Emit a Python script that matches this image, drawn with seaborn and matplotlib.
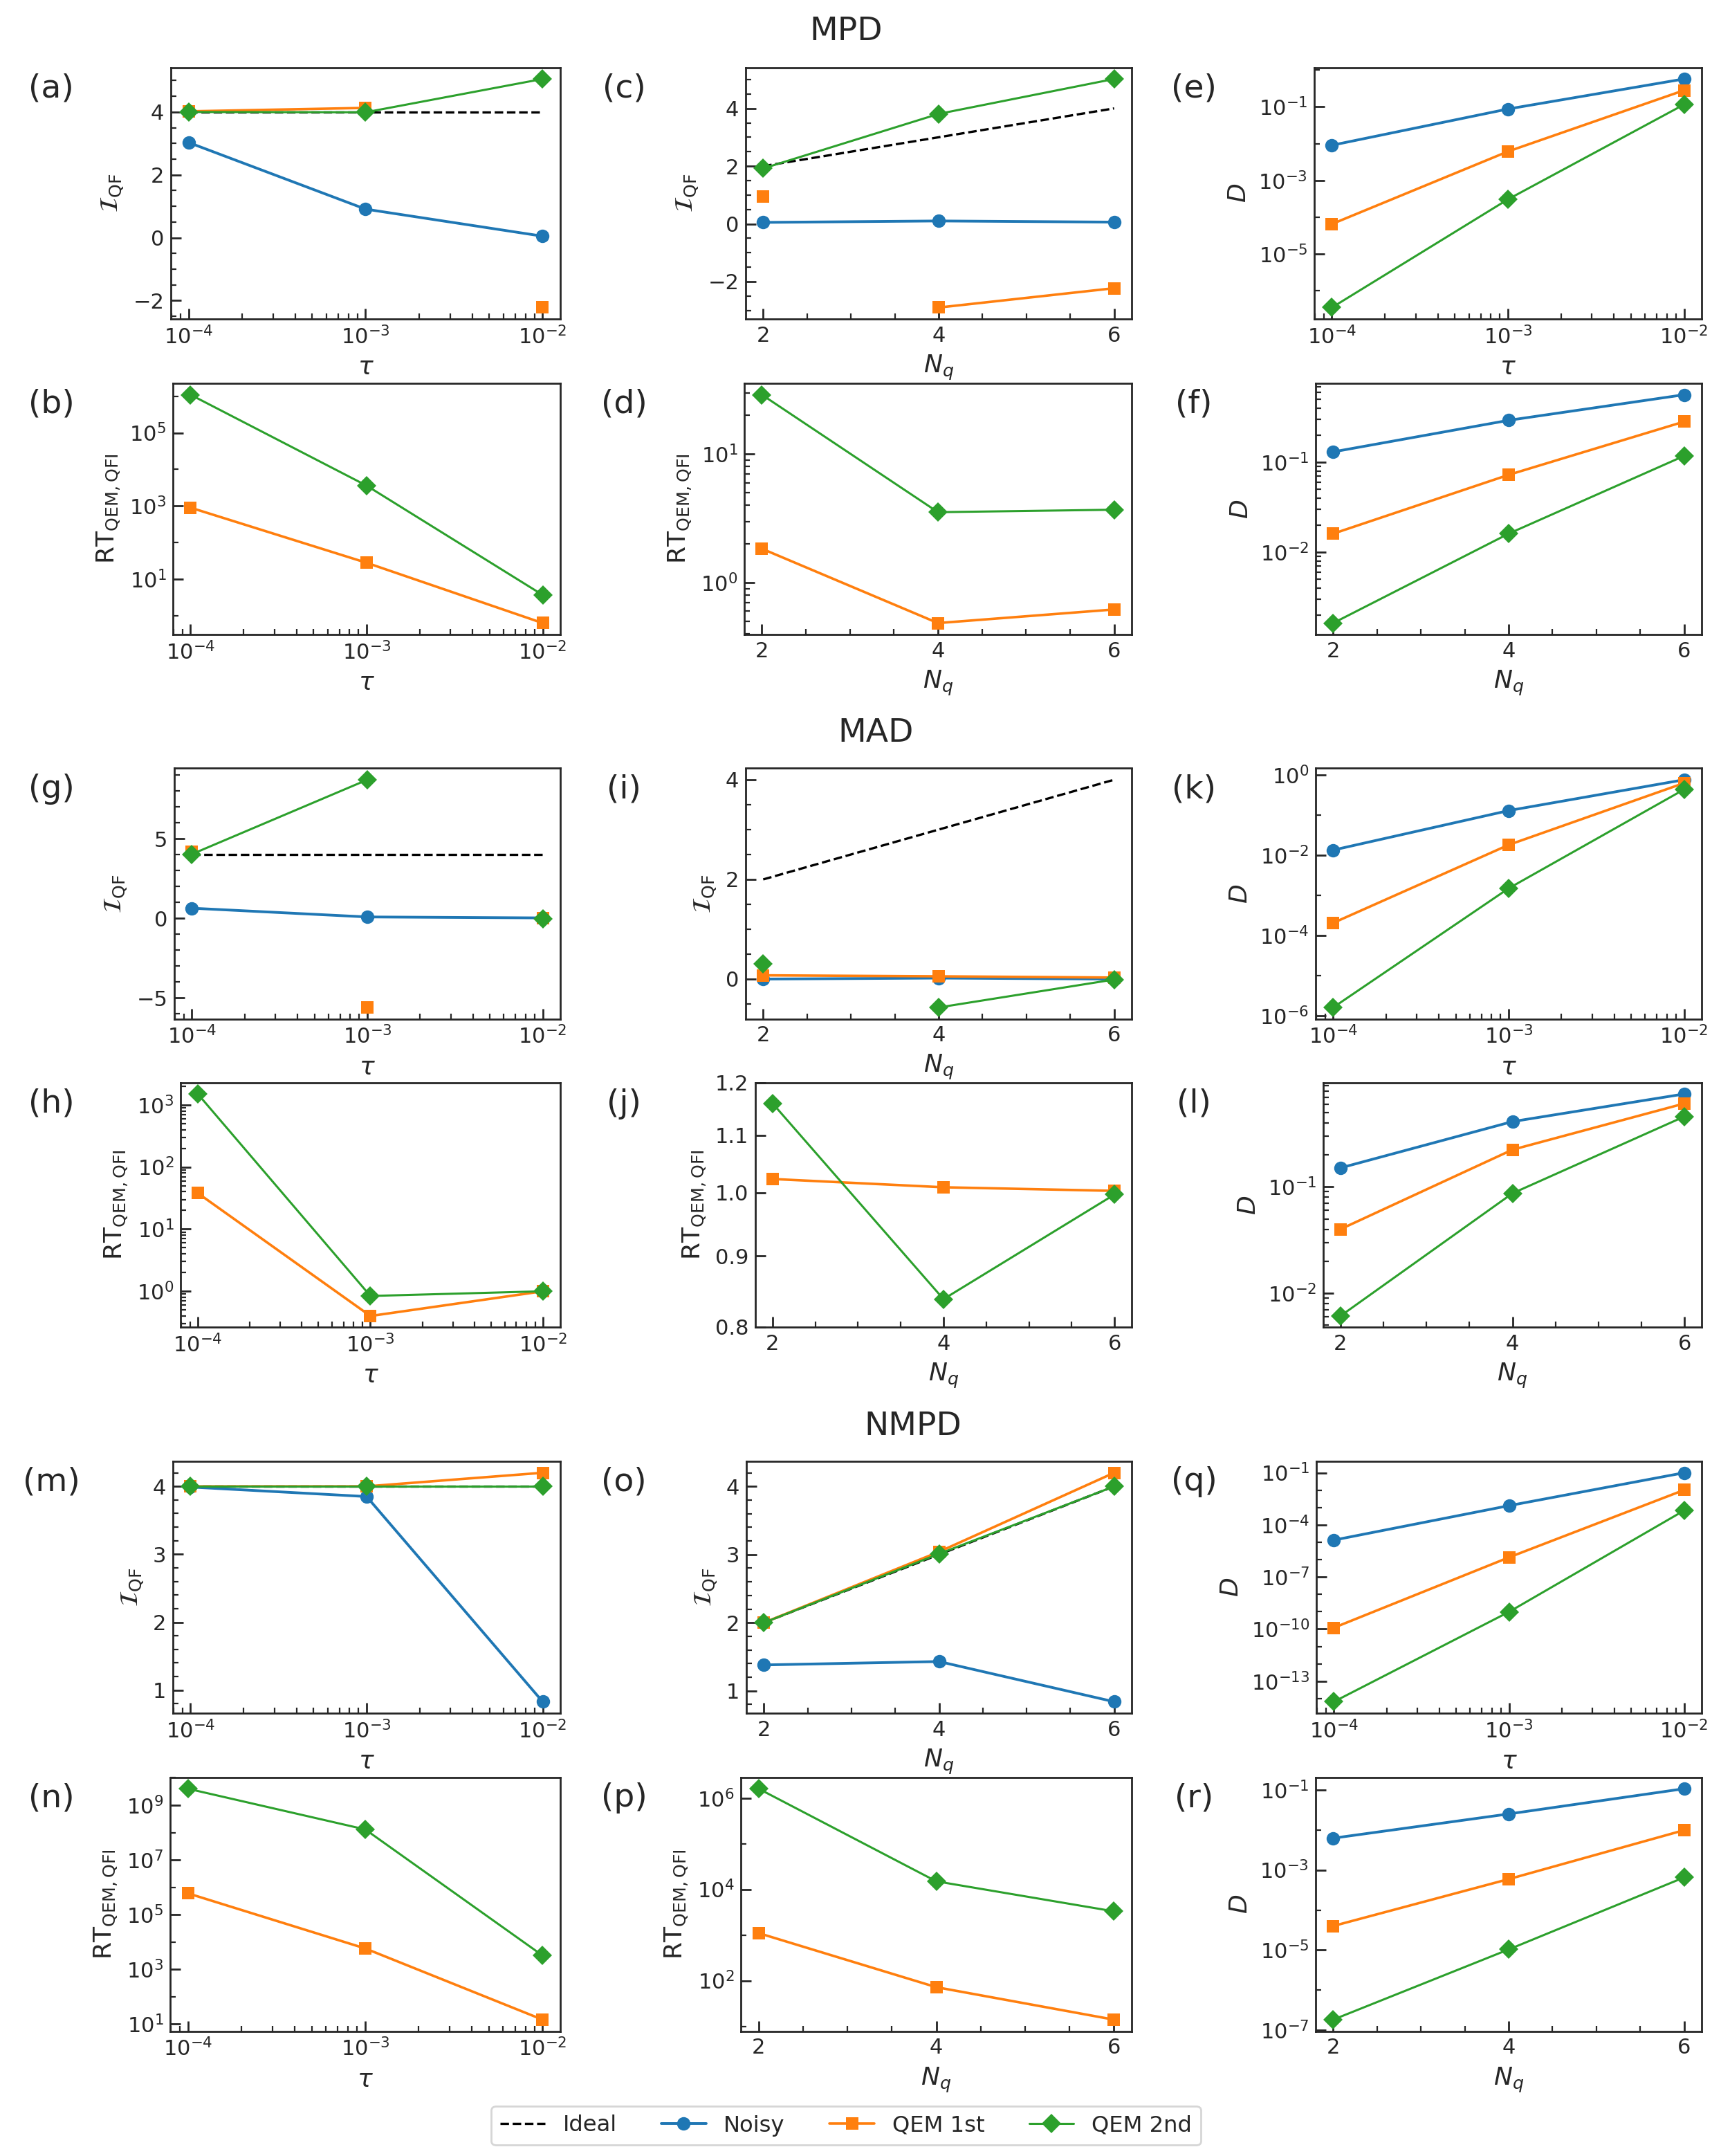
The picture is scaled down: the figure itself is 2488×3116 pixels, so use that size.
import matplotlib
matplotlib.use("Agg")
import matplotlib.pyplot as plt
from matplotlib.lines import Line2D
from matplotlib.ticker import (FixedLocator, FormatStrFormatter, NullLocator,
                               NullFormatter, LogLocator, LogFormatterSciNotation)
import numpy as np
import pandas as pd
import seaborn as sns

W, H, DPI = 2488, 3116, 200

# x values
tau = [1e-4, 1e-3, 1e-2]
nq = [2, 4, 6]

# ---- MPD ----
mpd_iqf_tau = {"Ideal": [4, 4, 4], "Noisy": [3.03, 0.91, 0.05],
               "QEM 1st": [4.02, 4.13, -2.22], "QEM 2nd": [4.0, 3.99, 5.05]}
mpd_rt_tau = {"QEM 1st": [900, 28, 0.63], "QEM 2nd": [1.1e6, 3.6e3, 3.7]}
mpd_iqf_nq = {"Ideal": [2, 3, 4], "Noisy": [0.05, 0.1, 0.06],
              "QEM 1st": [0.95, -2.9, -2.23], "QEM 2nd": [1.92, 3.81, 5.02]}
mpd_rt_nq = {"QEM 1st": [1.84, 0.486, 0.62], "QEM 2nd": [29, 3.54, 3.7]}
mpd_d_tau = {"Noisy": [9e-3, 0.087, 0.57], "QEM 1st": [6.5e-5, 6.1e-3, 0.28],
             "QEM 2nd": [3.5e-7, 3.05e-4, 0.115]}
mpd_d_nq = {"Noisy": [0.131, 0.294, 0.566], "QEM 1st": [0.0161, 0.0727, 0.284],
            "QEM 2nd": [1.63e-3, 0.0161, 0.118]}

# ---- MAD ----
mad_iqf_tau = {"Ideal": [4, 4, 4], "Noisy": [0.64, 0.09, 0.03],
               "QEM 1st": [4.18, -5.59, 0.02], "QEM 2nd": [4.03, 8.70, -0.03]}
mad_rt_tau = {"QEM 1st": [38, 0.40, 1.0], "QEM 2nd": [1.5e3, 0.84, 1.0]}
mad_iqf_nq = {"Ideal": [2, 3, 4], "Noisy": [0.0, 0.02, 0.0],
              "QEM 1st": [0.075, 0.055, 0.03], "QEM 2nd": [0.30, -0.57, -0.01]}
mad_rt_nq = {"QEM 1st": [1.023, 1.009, 1.003], "QEM 2nd": [1.16, 0.838, 0.997]}
mad_d_tau = {"Noisy": [0.0133, 0.128, 0.75], "QEM 1st": [2.04e-4, 0.0179, 0.62],
             "QEM 2nd": [1.6e-6, 1.48e-3, 0.43]}
mad_d_nq = {"Noisy": [0.151, 0.412, 0.75], "QEM 1st": [0.040, 0.224, 0.61],
            "QEM 2nd": [6.1e-3, 0.087, 0.46]}

# ---- NMPD ----
nmpd_iqf_tau = {"Ideal": [4, 4, 4], "Noisy": [3.99, 3.85, 0.83],
                "QEM 1st": [4.0, 4.0, 4.20], "QEM 2nd": [4.0, 4.0, 4.0]}
nmpd_rt_tau = {"QEM 1st": [6e5, 5.8e3, 14.5], "QEM 2nd": [4e9, 1.3e8, 3.2e3]}
nmpd_iqf_nq = {"Ideal": [2, 3, 4], "Noisy": [1.38, 1.43, 0.84],
               "QEM 1st": [2.0, 3.04, 4.20], "QEM 2nd": [2.0, 3.01, 4.0]}
nmpd_rt_nq = {"QEM 1st": [1.1e3, 72, 14], "QEM 2nd": [1.6e6, 1.5e4, 3.3e3]}
nmpd_d_tau = {"Noisy": [1.33e-5, 1.28e-3, 0.1], "QEM 1st": [1.2e-10, 1.35e-6, 0.0102],
              "QEM 2nd": [6.6e-15, 9.8e-10, 6.7e-4]}
nmpd_d_nq = {"Noisy": [6.2e-3, 0.0249, 0.106], "QEM 1st": [4.0e-5, 5.9e-4, 9.8e-3],
             "QEM 2nd": [1.85e-7, 1.04e-5, 6.5e-4]}

# line pieces (points with different ids are not joined)
mpd_iqf_tau_seg = {"QEM 1st": [0, 0, 1]}
mpd_iqf_nq_seg = {"QEM 1st": [0, 1, 1]}
mad_iqf_tau_seg = {"QEM 1st": [0, 1, 2], "QEM 2nd": [0, 0, 1]}
mad_iqf_nq_seg = {"QEM 2nd": [0, 1, 1]}

# labelled decades on the log y axes
log_ticks = {
    "(b)": [1, 3, 5], "(d)": [0, 1], "(e)": [-1, -3, -5], "(f)": [-1, -2],
    "(h)": [0, 1, 2, 3], "(k)": [0, -2, -4, -6], "(l)": [-1, -2],
    "(n)": [1, 3, 5, 7, 9], "(p)": [2, 4, 6], "(q)": [-1, -4, -7, -10, -13],
    "(r)": [-1, -3, -5, -7],
}
mad_rt_nq_ticks = [0.8, 0.9, 1.0, 1.1, 1.2]

colors = {"Noisy": "#1f77b4", "QEM 1st": "#ff7f0e", "QEM 2nd": "#2ca02c"}
markers = {"Noisy": "o", "QEM 1st": "s", "QEM 2nd": "D"}
msizes = {"Noisy": 7.0, "QEM 1st": 6.2, "QEM 2nd": 7.0}
lwidths = {"Noisy": 1.4, "QEM 1st": 1.3, "QEM 2nd": 1.1}

IQF = r"$\mathcal{I}_{\rm QF}$"
RT = r"RT$_{\rm QEM,QFI}$"
DL = r"$D$"

# label, x, data, segs, ylog, ylabel, (left, right, top, bottom) in px
panels = [
    ("(a)", "tau", mpd_iqf_tau, mpd_iqf_tau_seg, False, IQF, (247, 810, 97.6, 461)),
    ("(b)", "tau", mpd_rt_tau, {}, True, RT, (250, 810, 554, 917)),
    ("(c)", "nq", mpd_iqf_nq, mpd_iqf_nq_seg, False, IQF, (1078, 1636, 97.6, 461)),
    ("(d)", "nq", mpd_rt_nq, {}, True, RT, (1076, 1636, 554, 917)),
    ("(e)", "tau", mpd_d_tau, {}, True, DL, (1900, 2460, 97.6, 461)),
    ("(f)", "nq", mpd_d_nq, {}, True, DL, (1902, 2460, 554, 917)),
    ("(g)", "tau", mad_iqf_tau, mad_iqf_tau_seg, False, IQF, (252, 810, 1110.5, 1472.5)),
    ("(h)", "tau", mad_rt_tau, {}, True, RT, (261, 810, 1565, 1918)),
    ("(i)", "nq", mad_iqf_nq, mad_iqf_nq_seg, False, IQF, (1078, 1636, 1110.5, 1472.5)),
    ("(j)", "nq", mad_rt_nq, {}, True, RT, (1092, 1636, 1565, 1918)),
    ("(k)", "tau", mad_d_tau, {}, True, DL, (1902, 2460, 1110.5, 1472.5)),
    ("(l)", "nq", mad_d_nq, {}, True, DL, (1913, 2460, 1565, 1918)),
    ("(m)", "tau", nmpd_iqf_tau, {}, False, IQF, (250, 810, 2112, 2476)),
    ("(n)", "tau", nmpd_rt_tau, {}, True, RT, (246, 810, 2568.5, 2935.6)),
    ("(o)", "nq", nmpd_iqf_nq, {}, False, IQF, (1079, 1636, 2112, 2476)),
    ("(p)", "nq", nmpd_rt_nq, {}, True, RT, (1071, 1636, 2568.5, 2935.6)),
    ("(q)", "tau", nmpd_d_tau, {}, True, DL, (1903, 2460, 2112, 2476)),
    ("(r)", "nq", nmpd_d_nq, {}, True, DL, (1902, 2460, 2568.5, 2935.6)),
]

sns.set_style("ticks")
plt.rcParams.update({
    "font.family": ["DejaVu Sans"],
    "font.size": 11,
    "mathtext.fontset": "dejavusans",
    "axes.linewidth": 1.0,
    "xtick.labelsize": 11,
    "ytick.labelsize": 11,
    "axes.labelsize": 13,
})

fig = plt.figure(figsize=(W / DPI, H / DPI), dpi=DPI)
label_x = [74, 902, 1726]


def draw(ax, x, data, segs):
    for name, ys in data.items():
        if name == "Ideal":
            sns.lineplot(x=x, y=ys, ax=ax, color="k", linestyle="--", lw=1.2,
                         estimator=None, legend=False)
            continue
        df = pd.DataFrame({"x": x, "y": ys, "seg": segs.get(name, [0] * len(ys))})
        sns.lineplot(data=df, x="x", y="y", units="seg", estimator=None, sort=False,
                     ax=ax, color=colors[name], marker=markers[name],
                     markersize=msizes[name], markeredgecolor=colors[name],
                     markeredgewidth=0, lw=lwidths[name], legend=False)


def set_log_ticks(ax, exps):
    exps = sorted(exps)
    step = exps[1] - exps[0]
    ax.yaxis.set_major_locator(FixedLocator(10.0 ** np.array(exps, dtype=float)))
    ax.yaxis.set_major_formatter(LogFormatterSciNotation())
    if step > 1:
        minor = [e for e in range(exps[0] - step, exps[-1] + step + 1) if e not in exps]
        ax.yaxis.set_minor_locator(FixedLocator(10.0 ** np.array(minor, dtype=float)))
    else:
        ax.yaxis.set_minor_locator(LogLocator(base=10, subs=np.arange(2, 10)))
    ax.yaxis.set_minor_formatter(NullFormatter())


for i, (lab, xk, data, segs, ylog, ylab, (l, r, t, b)) in enumerate(panels):
    ax = fig.add_axes([l / W, 1 - b / H, (r - l) / W, (b - t) / H])
    x = tau if xk == "tau" else nq
    if xk == "tau":
        ax.set_xscale("log")
    if ylog:
        ax.set_yscale("log")
    draw(ax, x, data, segs)
    ax.set_xlabel(r"$\tau$" if xk == "tau" else r"$N_q$")
    ax.set_ylabel(ylab)
    if xk == "nq":
        ax.set_xticks(nq)
    ax.minorticks_on()
    if lab in log_ticks:
        set_log_ticks(ax, log_ticks[lab])
    if lab == "(j)":
        ax.set_ylim(0.8, 1.2)
        ax.yaxis.set_major_locator(FixedLocator(mad_rt_nq_ticks))
        ax.yaxis.set_major_formatter(FormatStrFormatter("%.1f"))
        ax.yaxis.set_minor_locator(NullLocator())
    ax.tick_params(which="both", direction="in", top=False, right=False)
    ax.tick_params(which="major", length=5.5, width=1.0)
    ax.tick_params(which="minor", length=3, width=0.8)
    fig.text(label_x[(i % 6) // 2] / W, 1 - (t + 30) / H, lab, ha="center",
             va="center", fontsize=17)

fig.text(1223 / W, 1 - 46 / H, "MPD", ha="center", va="center", fontsize=17)
fig.text(1266 / W, 1 - 1059 / H, "MAD", ha="center", va="center", fontsize=17)
fig.text(1320 / W, 1 - 2062 / H, "NMPD", ha="center", va="center", fontsize=17)

handles = [Line2D([], [], color="k", ls="--", lw=1.2, label="Ideal")]
for name in ["Noisy", "QEM 1st", "QEM 2nd"]:
    handles.append(Line2D([], [], color=colors[name], marker=markers[name],
                          ms=msizes[name], mew=0, lw=lwidths[name], label=name))
fig.legend(handles=handles, loc="center", bbox_to_anchor=(1223 / W, 1 - 3072 / H),
           ncol=4, fontsize=11.6, columnspacing=2.0, frameon=True)

fig.savefig("out.png", dpi=DPI)
